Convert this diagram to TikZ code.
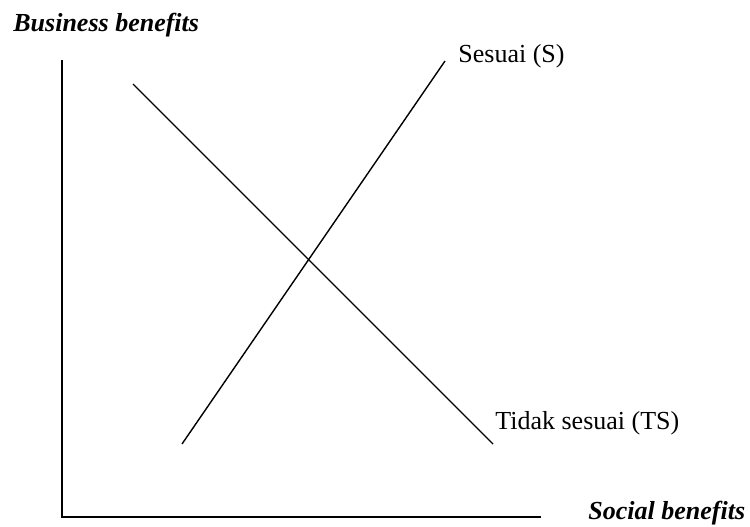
\documentclass[tikz,border=0pt]{standalone}
\usepackage{fontspec}
\setmainfont{Liberation Serif}
\usepackage{tikz}
\usetikzlibrary{calc, positioning}
\tikzset{
    axisline/.style={draw=black, line width=1pt},
    curve/.style={draw=black, line width=0.7pt},
    axislabel/.style={font=\fontsize{13}{15}\selectfont\bfseries\itshape, inner sep=0pt, anchor=base west},
    curvelabel/.style={font=\fontsize{13}{15}\selectfont, inner sep=0pt, anchor=base west}
}

\begin{document}
\begin{tikzpicture}[x=0.5pt, y=-0.5pt]
    \useasboundingbox (0,0) rectangle (750,526);

    % Axes
    \coordinate (O) at (62,517);
    \coordinate (ytop) at (62,60);
    \coordinate (xend) at (541,517);
    \draw[axisline] (ytop) -- (O) -- (xend);
    \node[axislabel] (ylab) at (13,31) {Business benefits};
    \node[axislabel] (xlab) at (588,519) {Social benefits};

    % Lines
    \coordinate (ts1) at (133,84);
    \coordinate (ts2) at (493,444);
    \coordinate (s1) at (182,444);
    \coordinate (s2) at (445,61);
    \draw[curve] (ts1) -- (ts2);
    \draw[curve] (s1) -- (s2);
    \node[curvelabel] (slab) at (458,62) {Sesuai (S)};
    \node[curvelabel] (tslab) at (495,429) {Tidak sesuai (TS)};
\end{tikzpicture}
\end{document}
